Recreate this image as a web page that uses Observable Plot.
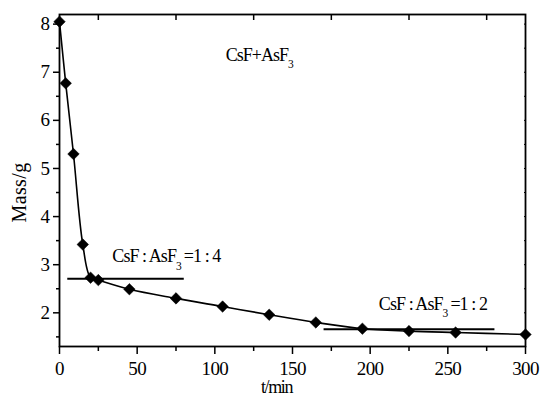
<!DOCTYPE html>
<html>
<head>
<meta charset="utf-8">
<script src="https://cdn.jsdelivr.net/npm/d3@7"></script>
<script src="https://cdn.jsdelivr.net/npm/@observablehq/plot@0.6"></script>
<style>
  html, body { margin: 0; padding: 0; background: #fff; }
</style>
</head>
<body>
<div id="chart"></div>
<script>
// time (min)
const times = [0, 4, 9, 15, 20, 25, 45, 75, 105, 135, 165, 195, 225, 255, 300];
// mass (g)
const masses = [8.05, 6.77, 5.30, 3.42, 2.73, 2.68, 2.49, 2.30, 2.13, 1.96, 1.80, 1.67, 1.62, 1.59, 1.55];
// composition plateaus
const plateauLabels = ["CsF : AsF₃=1 : 4", "CsF : AsF₃=1 : 2"];
const plateauFrom = [5, 170];
const plateauTo = [80, 280];
const plateauMass = [2.71, 1.66];
const plateauLabelT = [34, 205.6];
const plateauLabelM = [3.05, 2.06];
// title annotation
const titleText = "CsF+AsF₃";
const titleT = 107;
const titleM = 7.24;
// axes
const xTicks = [0, 50, 100, 150, 200, 250, 300];
const xMinor = [25, 75, 125, 175, 225, 275];
const yTicks = [2, 3, 4, 5, 6, 7, 8];
const yMinor = [1.5, 2.5, 3.5, 4.5, 5.5, 6.5, 7.5];

const data = times.map((t, i) => ({t, m: masses[i]}));
const plateaus = plateauLabels.map((label, i) => ({
  label, x1: plateauFrom[i], x2: plateauTo[i], y: plateauMass[i],
  lt: plateauLabelT[i], lm: plateauLabelM[i]
}));

const chart = Plot.plot({
  width: 541,
  height: 398,
  marginLeft: 59,
  marginRight: 16,
  marginTop: 14,
  marginBottom: 52,
  style: {background: "#fff", color: "#000", fontFamily: "'Liberation Serif', serif"},
  x: {domain: [0, 300]},
  y: {domain: [1.3, 8.2]},
  marks: [
    Plot.axisX(xTicks, {anchor: "bottom", tickSize: 8, tickPadding: 7, strokeWidth: 1.5, label: null, fontSize: 19, className: "xt"}),
    Plot.axisX(xMinor, {anchor: "bottom", tickSize: 5, text: null, strokeWidth: 1.5, label: null}),
    Plot.axisX(xMinor, {anchor: "top", tickSize: -5, text: null, strokeWidth: 1.5, label: null}),
    Plot.axisY(yTicks, {anchor: "left", tickSize: 6, tickPadding: 4, strokeWidth: 1.5, label: null, fontSize: 19, className: "yt"}),
    Plot.axisY(yMinor, {anchor: "left", tickSize: 3, text: null, strokeWidth: 1.5, label: null}),
    Plot.axisY(yMinor.concat(yTicks), {anchor: "right", tickSize: -2, text: null, strokeWidth: 1, label: null}),
    Plot.frame({stroke: "#000", strokeWidth: 1.8}),
    Plot.link(plateaus, {x1: "x1", x2: "x2", y1: "y", y2: "y", stroke: "#000", strokeWidth: 2}),
    Plot.line(data, {x: "t", y: "m", curve: "catmull-rom", stroke: "#000", strokeWidth: 1.6}),
    Plot.dot(data, {x: "t", y: "m", symbol: "diamond2", r: 5.2, fill: "#000", stroke: "#000", strokeWidth: 0.5}),
    Plot.text(plateaus, {x: "lt", y: "lm", text: "label", textAnchor: "start", lineAnchor: "bottom", fontSize: 18, className: "ann"}),
    Plot.text([titleText], {x: titleT, y: titleM, text: d => d, textAnchor: "start", lineAnchor: "bottom", fontSize: 18, className: "ttl"}),
    Plot.text(["Mass/g"], {frameAnchor: "left", rotate: -90, lineAnchor: "bottom", fontSize: 20, className: "ylab"}),
    Plot.text(["t/min"], {frameAnchor: "bottom", lineAnchor: "bottom", fontSize: 18, className: "xlab"})
  ]
});

document.getElementById("chart").appendChild(chart);

// subscript digits as real subscripts
const ns = "http://www.w3.org/2000/svg";
chart.querySelectorAll("text").forEach(t => {
  const s = t.textContent;
  if (!s.includes("₃")) return;
  const [a, b] = s.split("₃");
  while (t.firstChild) t.removeChild(t.firstChild);
  const t1 = document.createElementNS(ns, "tspan"); t1.textContent = a;
  const t2 = document.createElementNS(ns, "tspan"); t2.textContent = "3";
  t2.setAttribute("font-size", "11.5"); t2.setAttribute("dy", "7.5");
  const t3 = document.createElementNS(ns, "tspan"); t3.textContent = b;
  t3.setAttribute("dy", "-7.5"); t3.setAttribute("dx", b ? "3" : "0");
  t.append(t1, t2, t3);
});

// place the axis titles as in the original figure
function place(sel, transform) {
  chart.querySelectorAll(sel).forEach(t => {
    ["x", "y", "dx", "dy"].forEach(a => t.removeAttribute(a));
    t.setAttribute("transform", transform);
    t.setAttribute("text-anchor", "middle");
  });
}
place(".ylab text", "translate(25,192) rotate(-90)");
place(".xlab text", "translate(276,392)");

// fit text widths to the condensed look of the original
function fit(sel, target) {
  chart.querySelectorAll(sel).forEach(t => {
    const n = t.textContent.length;
    const w = t.getComputedTextLength();
    t.setAttribute("letter-spacing", ((target - w) / n).toFixed(2));
  });
}
fit(".ann text", 105);
fit(".ttl text", 67);
fit(".xlab text", 31);
fit(".ylab text", 60);
chart.querySelectorAll(".xt text, .yt text").forEach(t => t.setAttribute("letter-spacing", "-0.6"));
</script>
</body>
</html>
